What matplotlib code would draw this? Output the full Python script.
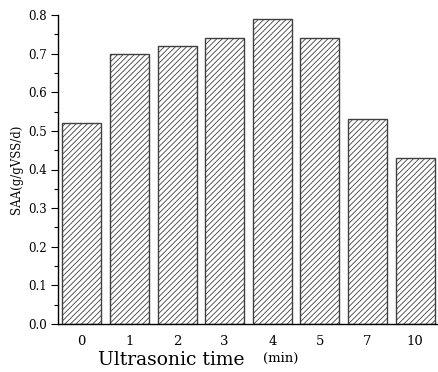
import matplotlib
matplotlib.use("Agg")
import matplotlib.pyplot as plt
from matplotlib.ticker import MultipleLocator

categories = ["0", "1", "2", "3", "4", "5", "7", "10"]
saa = [0.52, 0.70, 0.72, 0.74, 0.79, 0.74, 0.53, 0.43]
yticks = [0.0, 0.1, 0.2, 0.3, 0.4, 0.5, 0.6, 0.7, 0.8]

plt.rcParams['font.family'] = ['DejaVu Serif']
plt.rcParams['hatch.color'] = '#707070'
plt.rcParams['hatch.linewidth'] = 0.6

fig = plt.figure(figsize=(4.39, 3.72), dpi=100)
ax = fig.add_axes([58/439, 1-324/372, 1-58/439, (324-15)/372])

x = list(range(len(categories)))
ax.bar(x, saa, width=0.82, color='white', edgecolor='#404040', linewidth=1.0,
       hatch='//////')

ax.set_xlim(-0.5, len(categories)-0.5)
ax.set_ylim(0, 0.8)
ax.set_yticks(yticks)
ax.set_yticklabels([f"{v:.1f}" for v in yticks], fontsize=8.5)
ax.yaxis.set_minor_locator(MultipleLocator(0.05))
ax.tick_params(axis='y', which='major', length=5, width=0.8, direction='out', pad=3)
ax.tick_params(axis='y', which='minor', length=3, width=0.8, direction='out')
ax.set_xticks(x)
ax.set_xticklabels(categories, fontsize=9.5)
ax.tick_params(axis='x', length=0, pad=8)
for s in ['top', 'right']:
    ax.spines[s].set_visible(False)
for s in ['left', 'bottom']:
    ax.spines[s].set_linewidth(1.0)

fig.text(171/439, 1-360/372, "Ultrasonic time", fontsize=13.5, ha='center', va='center')
fig.text(281/439, 1-358/372, "(min)", fontsize=9.5, ha='center', va='center')
ax.set_ylabel("SAA(g/gVSS/d)", fontsize=8.5, labelpad=4)

fig.savefig("out.png", dpi=100)
